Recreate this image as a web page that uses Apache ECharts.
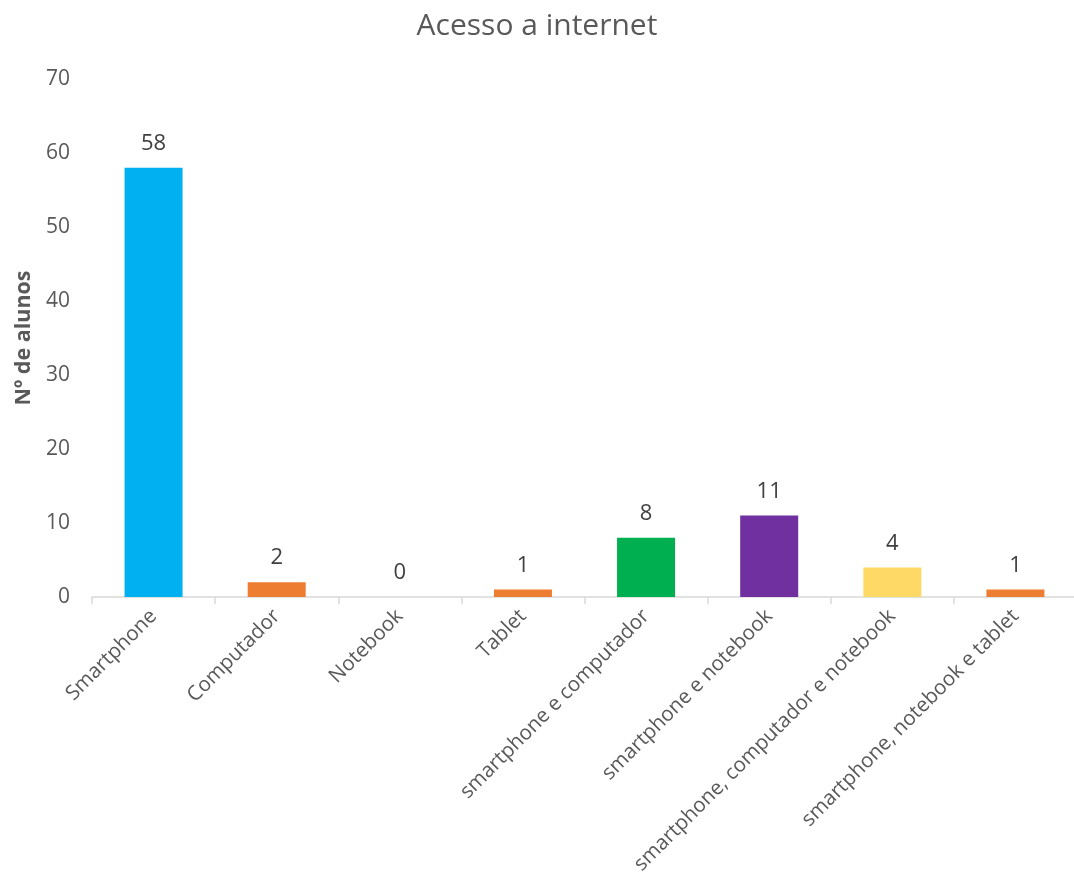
<!DOCTYPE html>
<html>
<head>
<meta charset="utf-8">
<script src="https://cdn.jsdelivr.net/npm/echarts@6/dist/echarts.min.js"></script>
<style>html,body{margin:0;padding:0;background:#fff}#c{width:1074px;height:888px}</style>
</head>
<body>
<div id="c"></div>
<script>
var categories = ['Smartphone', 'Computador', 'Notebook', 'Tablet', 'smartphone e computador', 'smartphone e notebook', 'smartphone, computador e notebook', 'smartphone, notebook e tablet'];
var values = [58, 2, 0, 1, 8, 11, 4, 1];
var barColors = ['#00B0F0', '#ED7D31', '#ED7D31', '#ED7D31', '#00B050', '#7030A0', '#FFD966', '#ED7D31'];
var yTicks = [0, 10, 20, 30, 40, 50, 60, 70];

var chart = echarts.init(document.getElementById('c'));
chart.setOption({
  animation: false,
  backgroundColor: '#fff',
  textStyle: { fontFamily: 'Open Sans' },
  title: {
    text: 'Acesso a internet',
    left: 'center',
    top: 6,
    textStyle: { fontFamily: 'Open Sans', fontSize: 30, fontWeight: 'normal', color: '#595959' }
  },
  grid: { left: 92, width: 985, top: 79, bottom: 291, containLabel: false, outerBoundsMode: 'none' },
  xAxis: {
    type: 'category',
    data: categories,
    axisLine: { lineStyle: { color: '#D9D9D9', width: 1.5 } },
    axisTick: { show: true, alignWithLabel: false, length: 7, lineStyle: { color: '#D9D9D9', width: 1.5 } },
    axisLabel: { rotate: 45, interval: 0, fontSize: 20.5, color: '#595959', margin: 16, fontFamily: 'Open Sans' }
  },
  yAxis: {
    type: 'value',
    min: yTicks[0],
    max: yTicks[yTicks.length - 1],
    interval: 10,
    name: 'Nº de alunos',
    nameLocation: 'middle',
    nameGap: 56,
    nameTextStyle: { fontSize: 21.5, fontWeight: 'bold', color: '#595959', fontFamily: 'Open Sans' },
    axisLine: { show: false },
    axisTick: { show: false },
    splitLine: { show: false },
    axisLabel: { fontSize: 21, color: '#595959', margin: 22, fontFamily: 'Open Sans' }
  },
  series: [{
    type: 'bar',
    barWidth: 58,
    data: values.map(function (v, i) {
      return { value: v, itemStyle: { color: barColors[i] } };
    }),
    label: {
      show: true,
      position: 'top',
      distance: 13,
      fontSize: 22,
      color: '#404040',
      fontFamily: 'Open Sans'
    }
  }]
});
</script>
</body>
</html>
